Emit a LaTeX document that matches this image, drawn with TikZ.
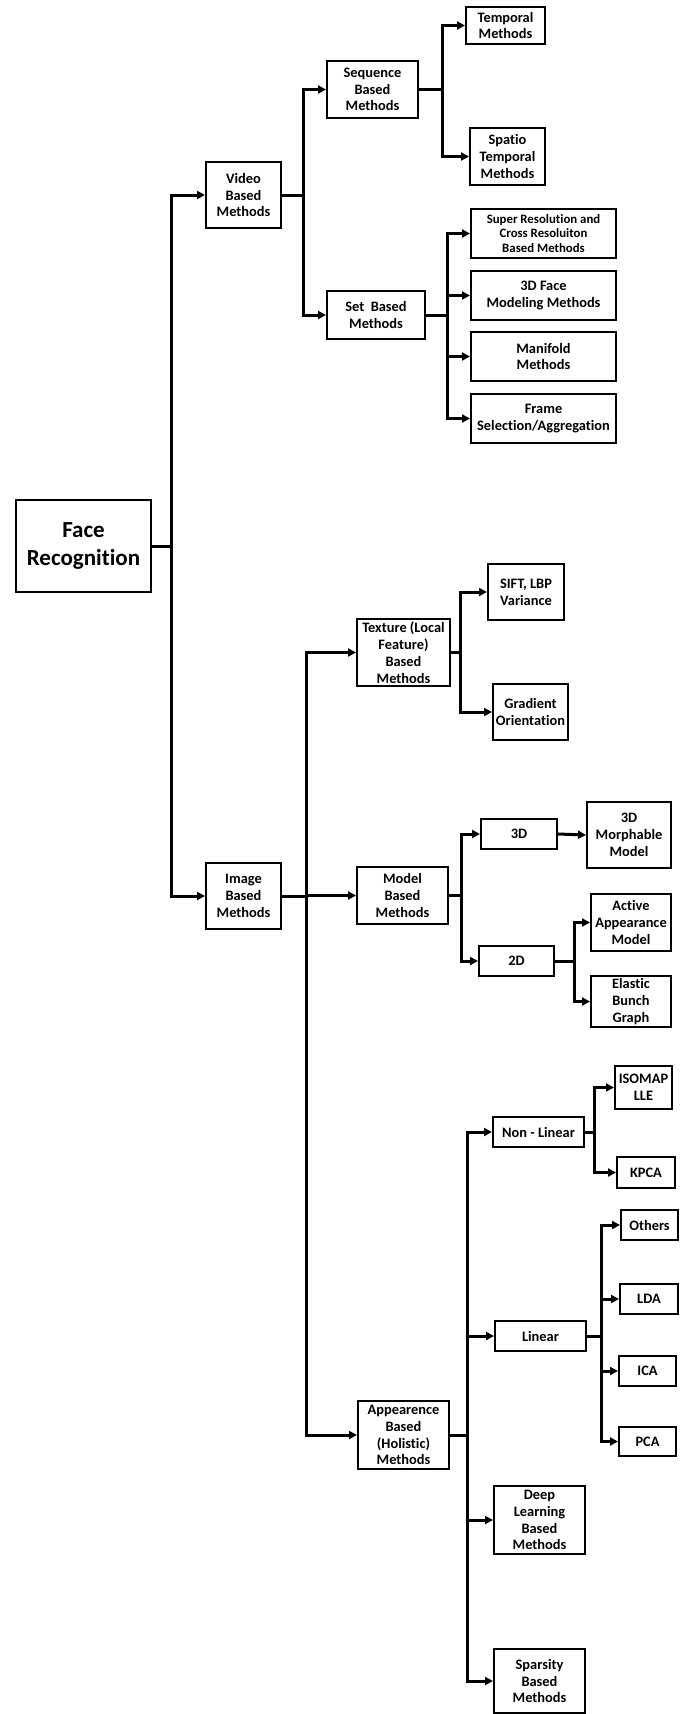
\documentclass[tikz,border=0pt]{standalone}
\usepackage{fontspec}
\setmainfont{Carlito}[Ligatures=NoCommon]
\usepackage{tikz}
\usetikzlibrary{positioning, calc, arrows.meta}

\begin{document}
\begin{tikzpicture}[x=1pt, y=-1pt,
    box/.style={draw, line width=2pt, align=center, inner sep=0pt,
                font=\bfseries\fontsize{14.4}{16.8}\selectfont},
    link/.style={line width=3pt, -{Triangle[length=8pt,width=8pt]}}]

    \useasboundingbox (0,0) rectangle (682,1714);

    % Root node
    \node[box, minimum width=135, minimum height=92,
          font=\bfseries\fontsize{23}{28}\selectfont] (face) at (83.5,546) {Face\\Recognition};

    % Top level: video and image based
    \node[box, minimum width=75, minimum height=66] (video) at (243.5,195) {Video\\Based\\Methods};
    \node[box, minimum width=75, minimum height=66] (image) at (243.5,896) {Image\\Based\\Methods};

    % Video based branch
    \node[box, minimum width=91, minimum height=57] (seq) at (372.5,89.5) {Sequence\\Based\\Methods};
    \node[box, minimum width=98, minimum height=48] (set) at (376,315) {Set~ Based\\Methods};
    \node[box, minimum width=79, minimum height=37] (temporal) at (505.5,25.5) {Temporal\\Methods};
    \node[box, minimum width=75, minimum height=57] (spatio) at (507.5,156.5) {Spatio\\Temporal\\Methods};
    \node[box, minimum width=145, minimum height=49,
          font=\bfseries\fontsize{12.8}{14.8}\selectfont] (superres) at (543.5,233.5) {Super Resolution and\\Cross Resoluiton\\Based Methods};
    \node[box, minimum width=145, minimum height=49] (face3d) at (543.5,295.5) {3D Face\\Modeling Methods};
    \node[box, minimum width=145, minimum height=49] (manifold) at (543.5,356.5) {Manifold\\Methods};
    \node[box, minimum width=145, minimum height=49] (frame) at (543.5,418.5) {Frame\\Selection/Aggregation};

    % Image based branch
    \node[box, minimum width=93, minimum height=67] (texture) at (403.5,652.5) {Texture (Local\\Feature)\\Based\\Methods};
    \node[box, minimum width=91, minimum height=57] (model) at (402.5,895.5) {Model\\Based\\Methods};
    \node[box, minimum width=91, minimum height=68] (appear) at (403.5,1435) {Appearence\\Based\\(Holistic)\\Methods};

    % Texture children
    \node[box, minimum width=76, minimum height=56] (sift) at (526,592) {SIFT, LBP\\Variance};
    \node[box, minimum width=75, minimum height=56] (gradient) at (530.5,712) {Gradient\\Orientation};

    % Model children
    \node[box, minimum width=76, minimum height=30] (threed) at (519,834) {3D};
    \node[box, minimum width=75, minimum height=30] (twod) at (516.5,961) {2D};
    \node[box, minimum width=84, minimum height=66] (morph) at (629,835) {3D\\Morphable\\Model};
    \node[box, minimum width=80, minimum height=57] (active) at (631,922.5) {Active\\Appearance\\Model};
    \node[box, minimum width=80, minimum height=51] (elastic) at (631,1001.5) {Elastic\\Bunch\\Graph};

    % Appearance children
    \node[box, minimum width=91, minimum height=30] (nonlin) at (538.5,1132) {Non - Linear};
    \node[box, minimum width=91, minimum height=30] (linear) at (540.5,1336) {Linear};
    \node[box, minimum width=91, minimum height=68] (deep) at (539.5,1520) {Deep\\Learning\\Based\\Methods};
    \node[box, minimum width=91, minimum height=64] (sparse) at (539.5,1681) {Sparsity\\Based\\Methods};
    \node[box, minimum width=57, minimum height=43] (isomap) at (643.5,1087.5) {ISOMAP\\LLE};
    \node[box, minimum width=58, minimum height=31] (kpca) at (646,1172.5) {KPCA};
    \node[box, minimum width=57, minimum height=30] (others) at (649.5,1225) {Others};
    \node[box, minimum width=58, minimum height=30] (lda) at (649,1299) {LDA};
    \node[box, minimum width=57, minimum height=30] (ica) at (647.5,1371) {ICA};
    \node[box, minimum width=57, minimum height=29] (pca) at (647.5,1441.5) {PCA};

    % Connectors: stub to a vertical bus, then arrow to each child
    \foreach \c in {video,image} \draw[link] (face.east) -- ++(19,0) |- (\c.west);
    \foreach \c in {seq,set} \draw[link] (video.east) -- ++(21,0) |- (\c.west);
    \foreach \c in {temporal,spatio} \draw[link] (seq.east) -- ++(23,0) |- (\c.west);
    \foreach \c in {superres,face3d,manifold,frame} \draw[link] (set.east) -- ++(21,0) |- (\c.west);
    \foreach \c in {texture,model,appear} \draw[link] (image.east) -- ++(24,0) |- (\c.west);
    \foreach \c in {sift,gradient} \draw[link] (texture.east) -- ++(9,0) |- (\c.west);
    \foreach \c in {threed,twod} \draw[link] (model.east) -- ++(12,0) |- (\c.west);
    \draw[link] (threed.east) -- (morph.west);
    \foreach \c in {active,elastic} \draw[link] (twod.east) -- ++(19,0) |- (\c.west);
    \foreach \c in {nonlin,linear,deep,sparse} \draw[link] (appear.east) -- ++(17,0) |- (\c.west);
    \foreach \c in {isomap,kpca} \draw[link] (nonlin.east) -- ++(9,0) |- (\c.west);
    \foreach \c in {others,lda,ica,pca} \draw[link] (linear.east) -- ++(14,0) |- (\c.west);

\end{tikzpicture}
\end{document}
